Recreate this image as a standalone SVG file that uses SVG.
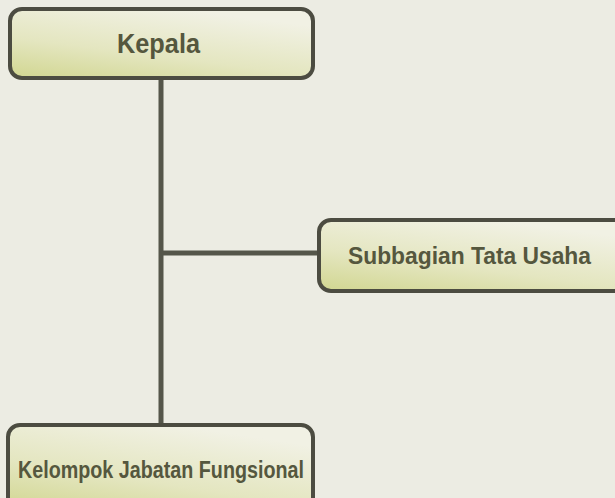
<svg xmlns="http://www.w3.org/2000/svg" width="615" height="498" viewBox="0 0 615 498">
<defs>
<linearGradient id="g" x1="0" y1="1" x2="0.55" y2="0">
<stop offset="0" stop-color="#d1d690"/>
<stop offset="0.45" stop-color="#e4e6c0"/>
<stop offset="1" stop-color="#f1f1e4"/>
</linearGradient>
<style>
.box{fill:url(#g);stroke:#4c4c41;stroke-width:4}
.lbl{font-family:"Liberation Sans",Arial,sans-serif;font-weight:bold;fill:#55573e}
.con{stroke:#55564a;stroke-width:5;fill:none}
</style>
</defs>
<rect width="615" height="498" fill="#ecece3"/>
<g id="connectors">
<line class="con" x1="161" y1="78" x2="161" y2="426"/>
<line class="con" x1="161" y1="253" x2="320" y2="253"/>
</g>
<g id="kepala">
<rect class="box" x="10" y="9" width="303" height="69" rx="12"/>
<text class="lbl" x="117" y="53" font-size="27" textLength="83" lengthAdjust="spacingAndGlyphs">Kepala</text>
</g>
<g id="subbagian">
<rect class="box" x="319" y="220" width="310" height="71" rx="12"/>
<text class="lbl" x="348" y="264" font-size="24.5" textLength="243" lengthAdjust="spacingAndGlyphs">Subbagian Tata Usaha</text>
</g>
<g id="kelompok">
<rect class="box" x="8" y="425" width="305" height="85" rx="12"/>
<text class="lbl" x="18" y="478" font-size="23" textLength="286" lengthAdjust="spacingAndGlyphs">Kelompok Jabatan Fungsional</text>
</g>
</svg>
